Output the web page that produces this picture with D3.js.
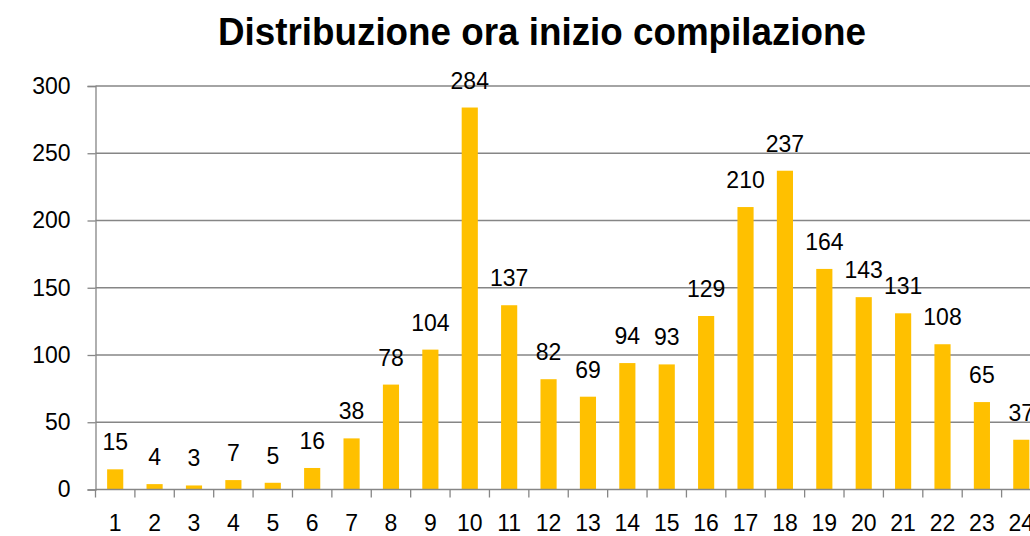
<!DOCTYPE html>
<html lang="it">
<head>
<meta charset="UTF-8">
<title>Distribuzione ora inizio compilazione</title>
<script src="https://d3js.org/d3.v7.min.js"></script>
<style>
  body { margin: 0; background: #fff; overflow: hidden; }
  text { font-family: "Liberation Sans", Arial, sans-serif; fill: #000; }
</style>
</head>
<body>
<div id="chart"></div>
<script>
// hours of the day and number of questionnaires started in each
const hours = ["1","2","3","4","5","6","7","8","9","10","11","12",
               "13","14","15","16","17","18","19","20","21","22","23","24"];
const counts = [15, 4, 3, 7, 5, 16, 38, 78, 104, 284, 137, 82,
                69, 94, 93, 129, 210, 237, 164, 143, 131, 108, 65, 37];
const yTicks = [0, 50, 100, 150, 200, 250, 300];
const title = "Distribuzione ora inizio compilazione";

const W = 1030, H = 536;
const plotLeft = 95.5, plotRight = 1041, plotTop = 86, plotBottom = 489.5;
const grey = "#868686";

const svg = d3.select("#chart").append("svg")
    .attr("width", W).attr("height", H);

const x = d3.scaleBand().domain(hours).range([plotLeft, plotRight])
    .paddingInner(0.59).paddingOuter(0.295);
const y = d3.scaleLinear().domain([0, 300]).range([plotBottom, plotTop]);
const step = x.step();

// title (squeezed a bit to match the narrow original font)
svg.append("text")
    .attr("x", 542).attr("y", 45)
    .attr("text-anchor", "middle")
    .attr("textLength", 648).attr("lengthAdjust", "spacingAndGlyphs")
    .style("font-size", "39px").style("font-weight", "bold")
    .text(title);

// gridlines
svg.append("g").selectAll("line")
    .data(yTicks.filter(d => d > 0))
    .enter().append("line")
    .attr("x1", plotLeft).attr("x2", W)
    .attr("y1", d => y(d)).attr("y2", d => y(d))
    .attr("stroke", grey).attr("stroke-width", 1.3);

// y axis
const yAxis = svg.append("g")
    .attr("transform", "translate(" + plotLeft + ",0)")
    .call(d3.axisLeft(y).tickValues(yTicks).tickSize(8).tickPadding(17));
yAxis.select(".domain").attr("stroke", grey).attr("stroke-width", 1.3);
yAxis.selectAll(".tick line").attr("stroke", grey).attr("stroke-width", 1.3);
yAxis.selectAll(".tick text")
    .style("font-size", "23px").style("font-family", "'Liberation Sans', Arial, sans-serif")
    .attr("fill", "#000");

// bars
svg.append("g").selectAll("rect")
    .data(counts)
    .enter().append("rect")
    .attr("x", (d, i) => x(hours[i]))
    .attr("y", d => y(d))
    .attr("width", x.bandwidth())
    .attr("height", d => plotBottom - y(d))
    .attr("fill", "#FFC000");

// data labels
svg.append("g").selectAll("text")
    .data(counts)
    .enter().append("text")
    .attr("x", (d, i) => x(hours[i]) + x.bandwidth() / 2)
    .attr("y", d => y(d) - 19)
    .attr("text-anchor", "middle")
    .style("font-size", "23px")
    .text(d => d);

// x axis
svg.append("line")
    .attr("x1", plotLeft).attr("x2", W)
    .attr("y1", plotBottom).attr("y2", plotBottom)
    .attr("stroke", grey).attr("stroke-width", 1.3);

svg.append("g").selectAll("line")
    .data(d3.range(hours.length + 1))
    .enter().append("line")
    .attr("x1", i => plotLeft + i * step).attr("x2", i => plotLeft + i * step)
    .attr("y1", plotBottom).attr("y2", plotBottom + 8)
    .attr("stroke", grey).attr("stroke-width", 1.3);

svg.append("g").selectAll("text")
    .data(hours)
    .enter().append("text")
    .attr("x", d => x(d) + x.bandwidth() / 2)
    .attr("y", 531)
    .attr("text-anchor", "middle")
    .style("font-size", "23px")
    .text(d => d);
</script>
</body>
</html>
